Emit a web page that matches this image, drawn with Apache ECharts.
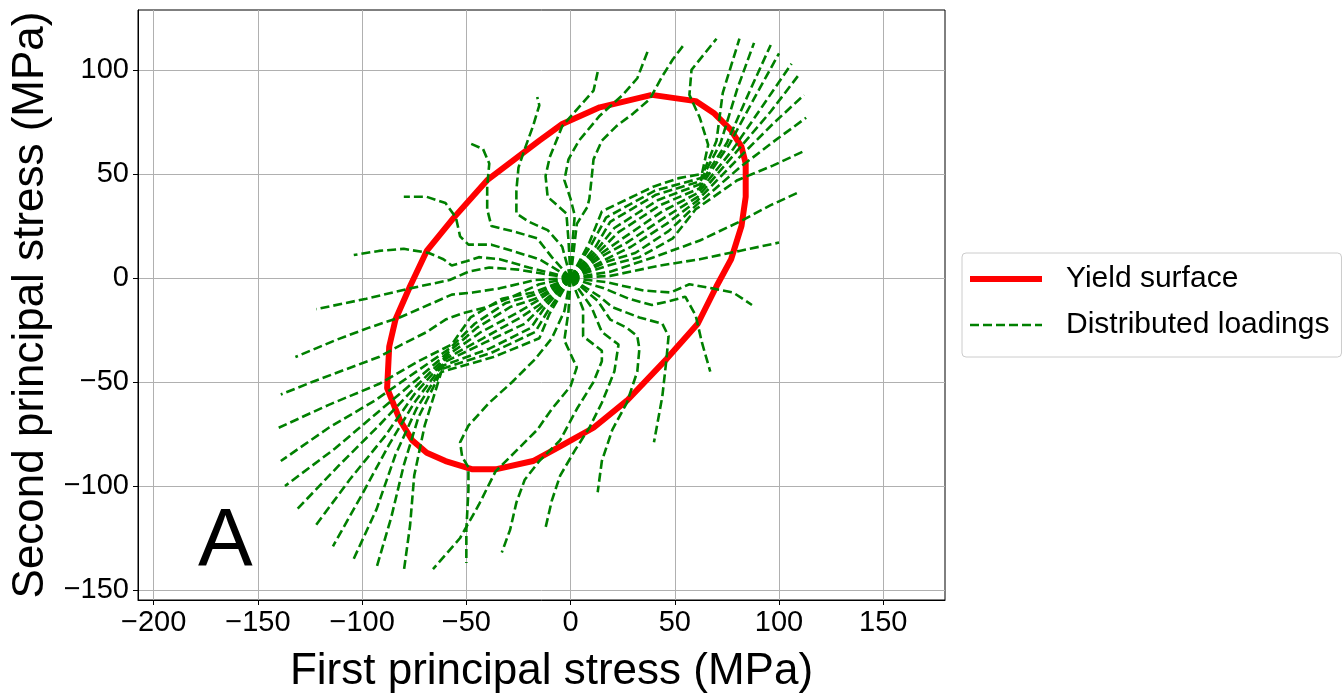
<!DOCTYPE html>
<html>
<head>
<meta charset="utf-8">
<script src="https://cdn.jsdelivr.net/npm/echarts@6/dist/echarts.min.js"></script>
<style>
  html, body { margin: 0; padding: 0; background: #fff; }
  #chart { width: 1343px; height: 698px; }
</style>
</head>
<body>
<div id="chart"></div>
<script>
const xTicks = [-200, -150, -100, -50, 0, 50, 100, 150];
const yTicks = [-150, -100, -50, 0, 50, 100];

// yield surface polygon (MPa)
const yieldSurface = [[39,88],[60,85],[69,79],[77,71],[82,63],[84,55],[84,39],[82,25],[77,9],[70,-4],[61,-22],[46,-39],[27,-59],[11,-72],[-5,-81],[-18,-88],[-36,-92],[-47,-92],[-60,-88],[-69,-84],[-76,-78],[-82,-68],[-88,-53],[-87,-33],[-84,-20],[-77,-4],[-69,13],[-56,29],[-40,47],[-15,66],[-4,74],[14,82],[39,88]];

// loading paths, counter-clockwise from east
const pathE1 = [[0,0],[19,1],[43,6],[62,9],[81,13],[100,17]];
const pathE2 = [[0,0],[19,3],[40,10],[62,18],[81,27],[96,35],[109,41]];
const pathNE1 = [[0,0],[18,6],[33,10],[49,19],[60,33],[80,47],[97,54],[112,61]];
const pathNE2 = [[0,0],[18,8],[31,12],[47,22.5],[60.3,35],[81,53],[98,66],[113,77]];
const pathNE3 = [[0,0],[17,9],[29,15],[46,26],[60.6,37],[80,57],[97,74],[112,88]];
const pathNE4 = [[0,0],[16,11],[27,17],[45,29],[61,39],[79,60],[96,80],[109,97]];
const pathNE5 = [[0,0],[15,12],[25,19],[44,32],[61.3,41],[78,62],[93,84],[106,103]];
const pathNE6 = [[0,0],[14,13],[23,22],[43,35],[61.7,43],[76,64],[89,88],[100,108]];
const pathNE7 = [[0,0],[13,14],[21,24],[42,37.5],[62,45],[75,65],[86,90],[96,112]];
const pathNE8 = [[0,0],[12,15],[19,27],[41,40],[62.3,46.5],[72,65],[80,91],[88,113]];
const pathNE9 = [[0,0],[10,16],[17,29],[40.5,42],[62.6,48],[70,66],[73,89],[81,115]];
const pathNE10 = [[0,0],[9,17],[15,32],[40,44],[52,48],[63,50],[66,64],[62,77],[57,88],[58,100],[70,115]];
const pathN1 = [[0,0],[3,26],[8,34],[9,38],[10,47],[11,57],[15,66],[22,73],[30,79],[38,86],[44,97],[49,105],[55,113]];
const pathN2 = [[0,0],[1,18],[2,30],[0,38],[-3,47],[-1,57],[4,66],[14,78],[25,88],[32,96],[37,109]];
const pathN3 = [[0,0],[-1,18],[-2,31],[-11,39],[-12,49],[-10,58],[-4,73],[11,90],[13,99]];
const pathNW1 = [[0,0],[-4,15],[-11,23],[-20,27],[-26,31],[-26,42],[-25,53],[-22,62],[-18,73],[-15,83],[-16,87]];
const pathNW2 = [[0,0],[-9,10],[-16,19],[-26,22],[-38,25],[-40,33],[-40,44],[-39,55],[-42,62],[-49,65]];
const pathNW3 = [[0,0],[-15,9],[-28,13],[-38,16],[-49,16],[-53,20],[-55,29],[-60,36],[-69,39],[-80,39]];
const pathW1 = [[0,0],[-20,5],[-34,9],[-44,10],[-50,8],[-57,6],[-61,9],[-68,12],[-80,14],[-92,13],[-104,11]];
const pathW2 = [[0,0],[-13,2],[-25,4],[-39,5],[-49,3],[-58,-1],[-77,-5],[-98,-10],[-122,-15]];
const pathW3 = [[0,0],[-17,-1],[-34,-5],[-47,-7],[-57,-8],[-66,-12],[-82,-19],[-97,-24],[-113,-30],[-132,-38]];
const pathW4 = [[0,0],[-15,-3],[-28,-9],[-40,-14],[-52,-17],[-60,-20],[-69,-26],[-81,-32],[-92,-38],[-108,-44],[-124,-50],[-139,-56]];
const pathSW1 = [[0,0],[-18,-7],[-33,-10],[-48,-19],[-57,-32],[-73,-40],[-92,-51],[-116,-61],[-140,-72]];
const pathSW2 = [[0,0],[-17,-8],[-31,-12],[-46,-22],[-57.8,-33.8],[-74,-45],[-94,-59],[-116,-72],[-139,-88]];
const pathSW3 = [[0,0],[-17,-10],[-29,-14],[-45,-24],[-58.4,-35.5],[-74,-49],[-93,-65],[-113,-82],[-137,-100]];
const pathSW4 = [[0,0],[-16,-11],[-26,-17],[-43,-26],[-59,-37.1],[-75,-53],[-92,-71],[-111,-90],[-131,-111]];
const pathSW5 = [[0,0],[-15,-13],[-24,-19],[-42,-29],[-59.6,-38.7],[-75,-56],[-89,-76],[-106,-97],[-123,-120]];
const pathSW6 = [[0,0],[-13,-13],[-22,-22],[-41,-31],[-60.2,-40.3],[-75,-60],[-87,-80],[-100,-104],[-114,-129]];
const pathSW7 = [[0,0],[-13,-15],[-19,-24],[-39,-34],[-60.8,-42],[-74,-63],[-84,-85],[-93,-111],[-104,-135]];
const pathSW8 = [[0,0],[-11,-16],[-17,-26],[-38,-36],[-61.4,-43.6],[-73,-67],[-80,-90],[-86,-115],[-93,-139]];
const pathSW9 = [[0,0],[-10,-17],[-15,-29],[-37,-38],[-62,-45.2],[-70,-71],[-75,-95],[-77,-119],[-80,-141]];
const pathS1 = [[0,0],[-3,-16],[-9,-29],[-17,-39],[-28,-50],[-39,-60],[-49,-71],[-53,-79],[-52,-86],[-49,-91],[-49,-102],[-50,-121],[-50,-137]];
const pathS2 = [[0,0],[-1,-16],[-3,-30],[3,-43],[0,-52],[-9,-63],[-16,-73],[-26,-83],[-36,-93],[-44,-109],[-53,-125],[-66,-140]];
const pathS3 = [[0,0],[6,-15],[6,-28],[15,-35],[15,-40],[11,-50],[3,-63],[-5,-78],[-15,-88],[-22,-97],[-26,-108],[-29,-121],[-33,-132]];
const pathS4 = [[0,0],[10,-14],[15,-26],[23,-32],[21,-45],[15,-60],[9,-72],[2,-83],[-5,-95],[-9,-107],[-12,-120]];
const pathSE1 = [[0,0],[13,-11],[19,-20],[27,-24],[32,-28],[33,-34],[32,-45],[27,-60],[20,-73],[15,-88],[13,-103]];
const pathSE2 = [[0,0],[14,-9],[20,-14],[33,-19],[44,-22],[47,-28],[46,-39],[44,-57],[40,-79]];
const pathSE3 = [[0,0],[16,-5],[28,-10],[39,-13],[48,-11],[55,-9],[60,-18],[63,-31],[67,-45]];
const pathSE4 = [[0,0],[17,-2],[35,-6],[48,-7],[57,-3],[68,-5],[78,-7],[87,-13]];

const loadingPaths = [
  pathE1, pathE2, pathNE1, pathNE2, pathNE3, pathNE4, pathNE5, pathNE6, pathNE7, pathNE8, pathNE9, pathNE10,
  pathN1, pathN2, pathN3, pathNW1, pathNW2, pathNW3, pathW1, pathW2, pathW3, pathW4,
  pathSW1, pathSW2, pathSW3, pathSW4, pathSW5, pathSW6, pathSW7, pathSW8, pathSW9,
  pathS1, pathS2, pathS3, pathS4, pathSE1, pathSE2, pathSE3, pathSE4
];

const FONT = '"Liberation Sans", Arial, sans-serif';
const minus = v => String(v).replace('-', '\u2212');

const chart = echarts.init(document.getElementById('chart'));

const series = [{
  type: 'line',
  name: 'Yield surface',
  data: yieldSurface,
  symbol: 'none',
  lineStyle: { color: '#ff0000', width: 6 },
  itemStyle: { color: '#ff0000' },
  z: 2
}];
loadingPaths.forEach(p => {
  series.push({
    type: 'line',
    name: 'Distributed loadings',
    data: p,
    symbol: 'none',
    lineStyle: { color: '#008000', width: 2.6, type: [9, 4] },
    itemStyle: { color: '#008000' },
    z: 3
  });
});

chart.setOption({
  animation: false,
  backgroundColor: '#fff',
  grid: {
    left: 138, top: 10, width: 807, height: 590,
    show: true, borderColor: '#000', borderWidth: 1,
    containLabel: false, outerBoundsMode: 'none'
  },
  xAxis: {
    type: 'value',
    min: -207.5, max: 179.6,
    name: 'First principal stress (MPa)',
    nameLocation: 'middle',
    nameGap: 50,
    nameTextStyle: { fontFamily: FONT, fontSize: 44, color: '#000', padding: [0, 0, 0, 20] },
    axisLine: { show: true, onZero: false, lineStyle: { color: '#000', width: 1 } },
    axisTick: { show: true, length: 5, customValues: xTicks, lineStyle: { color: '#000' } },
    axisLabel: { customValues: xTicks, margin: 8, fontFamily: FONT, fontSize: 29, color: '#000', formatter: minus },
    splitLine: { show: true, lineStyle: { color: '#b0b0b0', width: 1 } }
  },
  yAxis: {
    type: 'value',
    min: -154.8, max: 128.8,
    name: 'Second principal stress (MPa)',
    nameLocation: 'middle',
    nameGap: 83,
    nameTextStyle: { fontFamily: FONT, fontSize: 44, color: '#000' },
    axisLine: { show: true, onZero: false, lineStyle: { color: '#000', width: 1 } },
    axisTick: { show: true, length: 5, customValues: yTicks, lineStyle: { color: '#000' } },
    axisLabel: { customValues: yTicks, margin: 9, fontFamily: FONT, fontSize: 29, color: '#000', formatter: minus },
    splitLine: { show: true, lineStyle: { color: '#b0b0b0', width: 1 } }
  },
  legend: {
    orient: 'vertical',
    left: 962, top: 253,
    padding: [11, 12, 17, 5],
    itemWidth: 72, itemHeight: 14, itemGap: 16,
    borderColor: '#cccccc', borderWidth: 1, borderRadius: 4,
    backgroundColor: '#fff',
    selectedMode: false,
    itemStyle: { opacity: 0 },
    lineStyle: { width: 'inherit' },
    textStyle: { fontFamily: FONT, fontSize: 30, lineHeight: 30, color: '#000', padding: [0, 0, 0, 19] },
    data: ['Yield surface', 'Distributed loadings']
  },
  graphic: [{
    type: 'text', left: 198, top: 501,
    style: { text: 'A', font: '82px "Liberation Sans", Arial, sans-serif', fill: '#000' }
  }],
  series: series
});
</script>
</body>
</html>
